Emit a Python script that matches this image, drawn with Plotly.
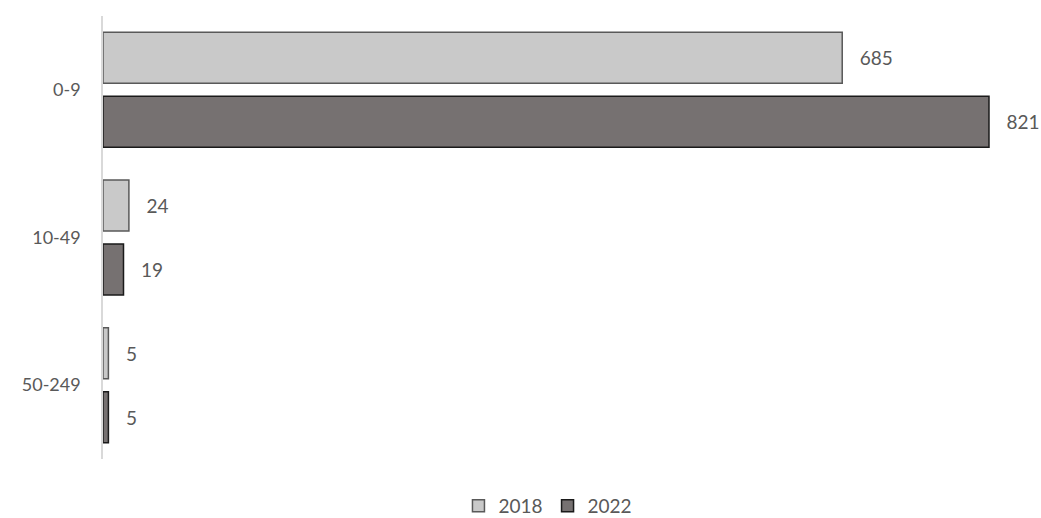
import plotly.graph_objects as go

categories = ["0-9", "10-49", "50-249"]
values_2018 = [685, 24, 5]
values_2022 = [821, 19, 5]
series_names = ["2018", "2022"]

FONT = "Lato, Carlito, Calibri, sans-serif"
TXT = "#595959"

fig = go.Figure()
fig.add_trace(go.Bar(
    y=categories, x=values_2018, name=series_names[0], orientation="h",
    marker=dict(color="#C9C9C9", line=dict(color="#595959", width=1.5)),
    text=values_2018, texttemplate="\u00a0\u00a0\u00a0%{x}", textposition="outside",
    textfont=dict(family=FONT, size=19, color=TXT), cliponaxis=False,
))
fig.add_trace(go.Bar(
    y=categories, x=values_2022, name=series_names[1], orientation="h",
    marker=dict(color="#767171", line=dict(color="#1A1A1A", width=1.5)),
    text=values_2022, texttemplate="\u00a0\u00a0\u00a0%{x}", textposition="outside",
    textfont=dict(family=FONT, size=19, color=TXT), cliponaxis=False,
))

fig.update_layout(
    width=1041, height=518,
    margin=dict(l=103, r=11, t=16, b=59, autoexpand=False),
    paper_bgcolor="white", plot_bgcolor="white",
    barmode="group", bargap=0.133, bargroupgap=0.203,
    font=dict(family=FONT, size=18, color=TXT),
    xaxis=dict(range=[0, 859], showgrid=False, zeroline=False, showticklabels=False,
               showline=False, fixedrange=True, automargin=False),
    yaxis=dict(autorange="reversed", showline=True, linecolor="#D9D9D9", linewidth=1.5,
               ticks="", showgrid=False, ticklabelstandoff=17, automargin=False,
               fixedrange=True, tickfont=dict(family=FONT, size=18, color=TXT)),
    legend=dict(orientation="h", x=0.48, xanchor="center", y=-0.106, yanchor="middle",
                font=dict(family=FONT, size=19, color=TXT), traceorder="normal"),
    showlegend=True,
)

fig.write_html("out.html", config={"displayModeBar": False},
               post_script="document.body.style.margin='0';document.body.style.overflow='hidden';")
